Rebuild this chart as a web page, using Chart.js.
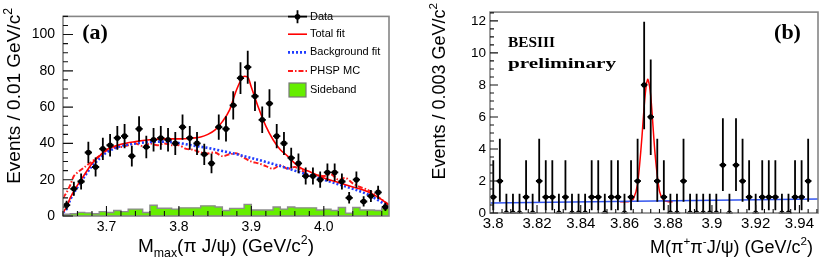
<!DOCTYPE html>
<html>
<head>
<meta charset="utf-8">
<script src="https://cdn.jsdelivr.net/npm/chart.js@4"></script>
<style>
html, body { margin: 0; padding: 0; background: #fff; }
#wrap { position: relative; width: 822px; height: 258px; }
canvas { position: absolute; top: 0; }
</style>
</head>
<body>
<div id="wrap">
  <canvas id="chartA" width="411" height="258" style="left:0"></canvas>
  <canvas id="chartB" width="411" height="258" style="left:411px"></canvas>
</div>
<script>
// ---------- panel (a): M_max(pi J/psi), 0.01 GeV/c^2 bins ----------
var binCentersA = [3.645,3.655,3.665,3.675,3.685,3.695,3.705,3.715,3.725,3.735,3.745,3.755,3.765,3.775,3.785,3.795,3.805,3.815,3.825,3.835,3.845,3.855,3.865,3.875,3.885,3.895,3.905,3.915,3.925,3.935,3.945,3.955,3.965,3.975,3.985,3.995,4.005,4.015,4.025,4.035,4.045,4.055,4.065,4.075,4.085];
var countsA = [6,15,19,35,27,37,39,43,44,33,48,38,42,43,42,40,49,43,40,34,29,49,48,61,76,82,66,53,62,44,40,32,29,22,22,20,24,24,19,10,20,8,11,13,5];
var sidebandA = [1,1.2,2,1.7,1.2,2.4,1.9,3,2.4,3.8,3.8,1.9,5.9,4.3,4.3,3.8,4.5,4.5,4.5,5.6,5.6,5,3,4.2,4.2,6.4,3.3,3.3,3.3,5,3.8,5,4.5,4.5,4.5,3.3,3.8,3,4.7,1.6,4.7,3.3,3.3,3,4.3];

var totalFitXA = [3.640,3.645,3.650,3.660,3.670,3.680,3.690,3.700,3.720,3.740,3.760,3.780,3.800,3.820,3.830,3.840,3.850,3.860,3.870,3.880,3.890,3.895,3.900,3.910,3.920,3.930,3.940,3.950,3.960,3.970,3.980,4.000,4.020,4.040,4.060,4.080,4.090];
var totalFitA = [2,5,10,17,23,29,33,36.5,39.5,41,42,42.5,42.5,43,43.5,45,47.5,52,58.5,70,77,76.5,71,59.5,49.5,42,36.5,33,29,26,24.5,21,18.5,16,13.5,9,6];

var bgFitXA = [3.640,3.645,3.650,3.660,3.670,3.680,3.690,3.700,3.720,3.740,3.760,3.780,3.800,3.820,3.840,3.860,3.880,3.900,3.920,3.940,3.960,3.980,4.000,4.020,4.040,4.060,4.080,4.090];
var bgFitA = [2,4,9,16,22,27.5,31.5,35,38.5,40,40.8,41,40.2,38.8,37.5,35.8,34,32,29.8,27.5,25,22.5,20,17.5,15,12,7.5,5];

var phspXA = [3.640,3.645,3.650,3.655,3.660,3.670,3.680,3.690,3.700,3.710,3.720,3.730,3.740,3.750,3.760,3.770,3.780,3.790,3.800,3.810,3.820,3.830,3.840,3.850,3.860,3.870,3.880,3.890,3.900,3.910,3.920,3.930,3.940,3.950,3.960,3.970,3.980,3.990,4.000,4.010,4.020,4.030,4.040,4.050,4.060,4.070,4.080,4.090];
var phspA = [10,13,17,22,24,27,30,33,36,37.5,38,39,40,38.5,40,39,40,39,39,37,36.5,35,34.5,35,33,34,34.5,32,30,29,27.5,26,28,26,27,25,22,22.5,22,23,20,21,18,16,14.5,12,9,6];

var yTicksA = [0, 20, 40, 60, 80, 100];
var yTickLabelsA = ['0', '20', '40', '60', '80', '100'];
var xTicksA = [3.7, 3.8, 3.9, 4.0];
var xTickLabelsA = ['3.7', '3.8', '3.9', '4.0'];

// ---------- panel (b): M(pi+ pi- J/psi), 0.003 GeV/c^2 bins ----------
var binCentersB = [3.800,3.803,3.806,3.809,3.812,3.815,3.818,3.821,3.824,3.827,3.830,3.833,3.836,3.839,3.842,3.845,3.848,3.851,3.854,3.857,3.860,3.863,3.866,3.869,3.872,3.875,3.878,3.881,3.884,3.887,3.890,3.893,3.896,3.899,3.902,3.905,3.908,3.911,3.914,3.917,3.920,3.923,3.926,3.929,3.932,3.935,3.938,3.941,3.944];
var countsB = [1,2,0,0,0,1,0,2,1,1,0,1,0,0,0,1,1,0,1,1,0,1,2,8,6,2,1,0,0,2,0,0,0,0,0,3,0,3,2,1,0,1,1,1,0,0,1,1,2];

// asymmetric Poisson intervals used for the small counts, index = count
var poissonLoB = [0, 0.173, 0.708, 1.367, 2.086, 2.840, 3.620, 4.419, 5.232];
var poissonHiB = [1.2, 3.300, 4.638, 5.918, 7.163, 8.382, 9.584, 10.77, 11.95];

var bgFitXB = [3.7985, 3.9485];
var bgFitB = [0.62, 0.87];
var peakFitXB = [3.858,3.860,3.862,3.864,3.866,3.868,3.869,3.870,3.8707,3.872,3.874,3.876,3.878,3.880,3.882];
var peakFitB = [0.70,0.70,0.71,0.86,1.82,4.76,6.65,8.03,8.35,7.31,3.67,1.37,0.78,0.71,0.71];

var yTicksB = [0, 2, 4, 6, 8, 10, 12];
var yTickLabelsB = ['0', '2', '4', '6', '8', '10', '12'];
var xTicksB = [3.80, 3.82, 3.84, 3.86, 3.88, 3.90, 3.92, 3.94];
var xTickLabelsB = ['3.8', '3.82', '3.84', '3.86', '3.88', '3.9', '3.92', '3.94'];

var SANS = '"Liberation Sans", Arial, sans-serif';
var SERIF = '"Liberation Serif", "Times New Roman", serif';

function pts(xs, ys) {
    return xs.map(function (x, i) { return { x: x, y: ys[i] }; });
}

// histogram outline: one point per lower bin edge plus the last upper edge
function histPts(centers, vals, half) {
    var out = centers.map(function (c, i) { return { x: c - half, y: vals[i] }; });
    out.push({ x: centers[centers.length - 1] + half, y: vals[vals.length - 1] });
    return out;
}

// text with sub/superscripts, parts = [[text, ''|'sub'|'sup'], ...]
function drawRich(ctx, parts, x, y, size, align) {
    function fontFor(k) { return (k ? size * 0.65 : size) + 'px ' + SANS; }
    var w = 0;
    parts.forEach(function (p) { ctx.font = fontFor(p[1]); w += ctx.measureText(p[0]).width; });
    var cx = align === 'right' ? x - w : (align === 'center' ? x - w / 2 : x);
    ctx.textAlign = 'left';
    ctx.textBaseline = 'alphabetic';
    parts.forEach(function (p) {
        ctx.font = fontFor(p[1]);
        var dy = p[1] === 'sub' ? size * 0.25 : (p[1] === 'sup' ? -size * 0.42 : 0);
        ctx.fillText(p[0], cx, y + dy);
        cx += ctx.measureText(p[0]).width;
    });
}

function fitText(ctx, text, x, y, font, width) {
    ctx.save();
    ctx.font = font;
    ctx.textAlign = 'left';
    ctx.textBaseline = 'alphabetic';
    var w = ctx.measureText(text).width;
    ctx.translate(x, y);
    ctx.scale(width / w, 1);
    ctx.fillText(text, 0, 0);
    ctx.restore();
}

// ROOT-like frame, inward ticks, error bars and labels
function rootDecor(cfg) {
    return {
        id: 'rootDecor',
        afterDatasetsDraw: function (chart) {
            var ctx = chart.ctx, xs = chart.scales.x, ys = chart.scales.y;
            ctx.save();
            ctx.strokeStyle = '#000';
            ctx.lineWidth = 1.8;
            cfg.dataX.forEach(function (x, i) {
                var v = cfg.dataY[i];
                var px = xs.getPixelForValue(x), py = ys.getPixelForValue(v);
                ctx.beginPath();
                ctx.moveTo(px, ys.getPixelForValue(cfg.hi(v)));
                ctx.lineTo(px, ys.getPixelForValue(cfg.lo(v)));
                ctx.moveTo(xs.getPixelForValue(x - cfg.halfBin), py);
                ctx.lineTo(xs.getPixelForValue(x + cfg.halfBin), py);
                ctx.stroke();
            });
            ctx.restore();
        },
        afterDraw: function (chart) {
            var ctx = chart.ctx, xs = chart.scales.x, ys = chart.scales.y, a = chart.chartArea;
            ctx.save();
            // frame
            ctx.strokeStyle = '#858585';
            ctx.lineWidth = 1.6;
            ctx.strokeRect(a.left, a.top, a.right - a.left, a.bottom - a.top);
            // ticks
            ctx.strokeStyle = '#111';
            ctx.lineWidth = 1.1;
            ctx.beginPath();
            var k, p;
            for (k = Math.ceil(ys.min / cfg.yMinor - 1e-6); k * cfg.yMinor <= ys.max + 1e-9; k++) {
                p = ys.getPixelForValue(k * cfg.yMinor);
                ctx.moveTo(a.left, p); ctx.lineTo(a.left + cfg.minorLen, p);
            }
            cfg.yTicks.forEach(function (t) {
                var q = ys.getPixelForValue(t);
                ctx.moveTo(a.left, q); ctx.lineTo(a.left + cfg.majorLen, q);
            });
            for (k = Math.ceil(xs.min / cfg.xMinor - 1e-6); k * cfg.xMinor <= xs.max + 1e-9; k++) {
                p = xs.getPixelForValue(k * cfg.xMinor);
                ctx.moveTo(p, a.bottom); ctx.lineTo(p, a.bottom - cfg.minorLen);
            }
            cfg.xTicks.forEach(function (t) {
                var q = xs.getPixelForValue(t);
                ctx.moveTo(q, a.bottom); ctx.lineTo(q, a.bottom - cfg.majorLen);
            });
            ctx.stroke();

            ctx.fillStyle = '#000';
            // axis titles
            drawRich(ctx, cfg.xTitle, cfg.xTitlePos[0], cfg.xTitlePos[1], cfg.titleSize, cfg.xTitleAlign);
            ctx.save();
            ctx.translate(cfg.yTitlePos[0], cfg.yTitlePos[1]);
            ctx.rotate(-Math.PI / 2);
            drawRich(ctx, cfg.yTitle, 0, 0, cfg.titleSize, 'right');
            ctx.restore();
            if (cfg.extra) cfg.extra(ctx);
            ctx.restore();
        }
    };
}

function baseOptions(o) {
    return {
        responsive: false,
        animation: false,
        events: [],
        layout: { padding: o.padding },
        plugins: { legend: { display: false }, tooltip: { enabled: false } },
        scales: {
            x: {
                type: 'linear', min: o.xMin, max: o.xMax,
                grid: { display: false, drawTicks: false }, border: { display: false },
                ticks: {
                    color: '#000', font: { family: SANS, size: o.xFont }, padding: o.xPad,
                    maxRotation: 0, autoSkip: false,
                    callback: function (val, i) { return o.xLabels[i]; }
                },
                afterBuildTicks: function (s) { s.ticks = o.xTicks.map(function (t) { return { value: t }; }); },
                afterFit: function (s) { s.height = o.xHeight; }
            },
            y: {
                type: 'linear', min: o.yMin, max: o.yMax,
                grid: { display: false, drawTicks: false }, border: { display: false },
                ticks: {
                    color: '#000', font: { family: SANS, size: o.yFont }, padding: o.yPad,
                    autoSkip: false,
                    callback: function (val, i) { return o.yLabels[i]; }
                },
                afterBuildTicks: function (s) { s.ticks = o.yTicks.map(function (t) { return { value: t }; }); },
                afterFit: function (s) { s.width = o.yWidth; }
            }
        }
    };
}

// ---------- chart (a) ----------
new Chart(document.getElementById('chartA'), {
    type: 'line',
    data: {
        datasets: [
            { label: 'Data', data: pts(binCentersA, countsA), showLine: false,
              pointRadius: 2.8, pointBackgroundColor: '#000', pointBorderWidth: 0, order: 0 },
            { label: 'Total fit', data: pts(totalFitXA, totalFitA), borderColor: '#ff0000',
              borderWidth: 1.6, pointRadius: 0, cubicInterpolationMode: 'monotone', order: 1 },
            { label: 'Background fit', data: pts(bgFitXA, bgFitA), borderColor: '#1f3cff',
              borderWidth: 2.6, borderDash: [2, 2], pointRadius: 0, cubicInterpolationMode: 'monotone', order: 2 },
            { label: 'PHSP MC', data: pts(phspXA, phspA), borderColor: '#ff1a1a',
              borderWidth: 2, borderDash: [5, 2, 1.5, 2], pointRadius: 0, tension: 0.3, order: 3 },
            { label: 'Sideband', data: histPts(binCentersA, sidebandA, 0.005), stepped: true,
              fill: 'origin', backgroundColor: '#66ee00', borderColor: '#8c8c8c', borderWidth: 1.4,
              pointRadius: 0, order: 4 }
        ]
    },
    options: baseOptions({
        padding: { left: 0, right: 22, top: 5, bottom: 0 },
        xMin: 3.64, xMax: 4.09, yMin: 0, yMax: 110,
        xTicks: xTicksA, xLabels: xTickLabelsA, yTicks: yTicksA, yLabels: yTickLabelsA,
        xFont: 14, yFont: 14, xPad: 3, yPad: 8, xHeight: 42, yWidth: 63
    }),
    plugins: [rootDecor({
        dataX: binCentersA, dataY: countsA, halfBin: 0.005,
        hi: function (v) { return v + Math.sqrt(v); },
        lo: function (v) { return v - Math.sqrt(v); },
        yTicks: yTicksA, xTicks: xTicksA, yMinor: 5, xMinor: 0.02, majorLen: 10, minorLen: 5,
        titleSize: 19,
        xTitle: [['M', ''], ['max', 'sub'], ['(\u03c0 J/\u03c8) (GeV/c', ''], ['2', 'sup'], [')', '']],
        xTitlePos: [226, 252], xTitleAlign: 'center',
        yTitle: [['Events / 0.01 GeV/c', ''], ['2', 'sup']],
        yTitlePos: [20, 8],
        extra: function (ctx) {
            ctx.font = 'bold 22px ' + SERIF;
            ctx.textAlign = 'center';
            ctx.fillText('(a)', 95, 39);
            // legend
            var rows = [16.7, 34.2, 52.4, 71, 90];
            var x0 = 288, x1 = 307;
            ctx.lineWidth = 1.8;
            ctx.strokeStyle = '#000';
            ctx.beginPath();
            ctx.moveTo(x0, rows[0]); ctx.lineTo(x1, rows[0]);
            ctx.moveTo(297.5, rows[0] - 6.5); ctx.lineTo(297.5, rows[0] + 6.5);
            ctx.stroke();
            ctx.beginPath(); ctx.arc(297.5, rows[0], 2.8, 0, Math.PI * 2); ctx.fill();
            ctx.strokeStyle = '#ff0000'; ctx.lineWidth = 1.6;
            ctx.beginPath(); ctx.moveTo(x0, rows[1]); ctx.lineTo(x1, rows[1]); ctx.stroke();
            ctx.strokeStyle = '#1f3cff'; ctx.lineWidth = 2.6; ctx.setLineDash([2, 2]);
            ctx.beginPath(); ctx.moveTo(x0, rows[2]); ctx.lineTo(x1, rows[2]); ctx.stroke();
            ctx.strokeStyle = '#ff1a1a'; ctx.lineWidth = 2; ctx.setLineDash([5, 2, 1.5, 2]);
            ctx.beginPath(); ctx.moveTo(x0, rows[3]); ctx.lineTo(x1, rows[3]); ctx.stroke();
            ctx.setLineDash([]);
            ctx.fillStyle = '#66ee00';
            ctx.fillRect(289, rows[4] - 7, 17, 14);
            ctx.strokeStyle = '#777'; ctx.lineWidth = 1.2;
            ctx.strokeRect(289, rows[4] - 7, 17, 14);
            ctx.fillStyle = '#000';
            ctx.font = '11px ' + SANS;
            ctx.textAlign = 'left';
            ctx.textBaseline = 'middle';
            ['Data', 'Total fit', 'Background fit', 'PHSP MC', 'Sideband'].forEach(function (t, i) {
                ctx.fillText(t, 310, rows[i]);
            });
        }
    })]
});

// ---------- chart (b) ----------
new Chart(document.getElementById('chartB'), {
    type: 'line',
    data: {
        datasets: [
            { label: 'Data', data: pts(binCentersB, countsB), showLine: false,
              pointRadius: 2.6, pointBackgroundColor: '#000', pointBorderWidth: 0, order: 0 },
            { label: 'Background', data: pts(bgFitXB, bgFitB), borderColor: '#3355ee',
              borderWidth: 1.5, pointRadius: 0, order: 1 },
            { label: 'Total fit', data: pts(peakFitXB, peakFitB), borderColor: '#ff0000',
              borderWidth: 1.5, pointRadius: 0, tension: 0.25, order: 2 }
        ]
    },
    options: baseOptions({
        padding: { left: 0, right: 4, top: 5, bottom: 0 },
        xMin: 3.7985, xMax: 3.9485, yMin: 0, yMax: 12.55,
        xTicks: xTicksB, xLabels: xTickLabelsB, yTicks: yTicksB, yLabels: yTickLabelsB,
        xFont: 15, yFont: 13.5, xPad: 1.5, yPad: 4, xHeight: 45, yWidth: 79
    }),
    plugins: [rootDecor({
        dataX: binCentersB, dataY: countsB, halfBin: 0.0015,
        hi: function (v) { return poissonHiB[v]; },
        lo: function (v) { return poissonLoB[v]; },
        yTicks: yTicksB, xTicks: xTicksB, yMinor: 0.5, xMinor: 0.004, majorLen: 8, minorLen: 4,
        titleSize: 18,
        xTitle: [['M(\u03c0', ''], ['+', 'sup'], ['\u03c0', ''], ['-', 'sup'], ['J/\u03c8) (GeV/c', ''], ['2', 'sup'], [')', '']],
        xTitlePos: [402, 253], xTitleAlign: 'right',
        yTitle: [['Events / 0.003 GeV/c', ''], ['2', 'sup']],
        yTitlePos: [34, 3],
        extra: function (ctx) {
            fitText(ctx, 'BESIII', 97, 47, 'bold 15.5px ' + SERIF, 47);
            fitText(ctx, 'preliminary', 97, 67.5, 'bold 15px ' + SERIF, 108);
            ctx.font = 'bold 22px ' + SERIF;
            ctx.textAlign = 'center';
            ctx.textBaseline = 'alphabetic';
            ctx.fillText('(b)', 376.5, 39);
        }
    })]
});
</script>
</body>
</html>
